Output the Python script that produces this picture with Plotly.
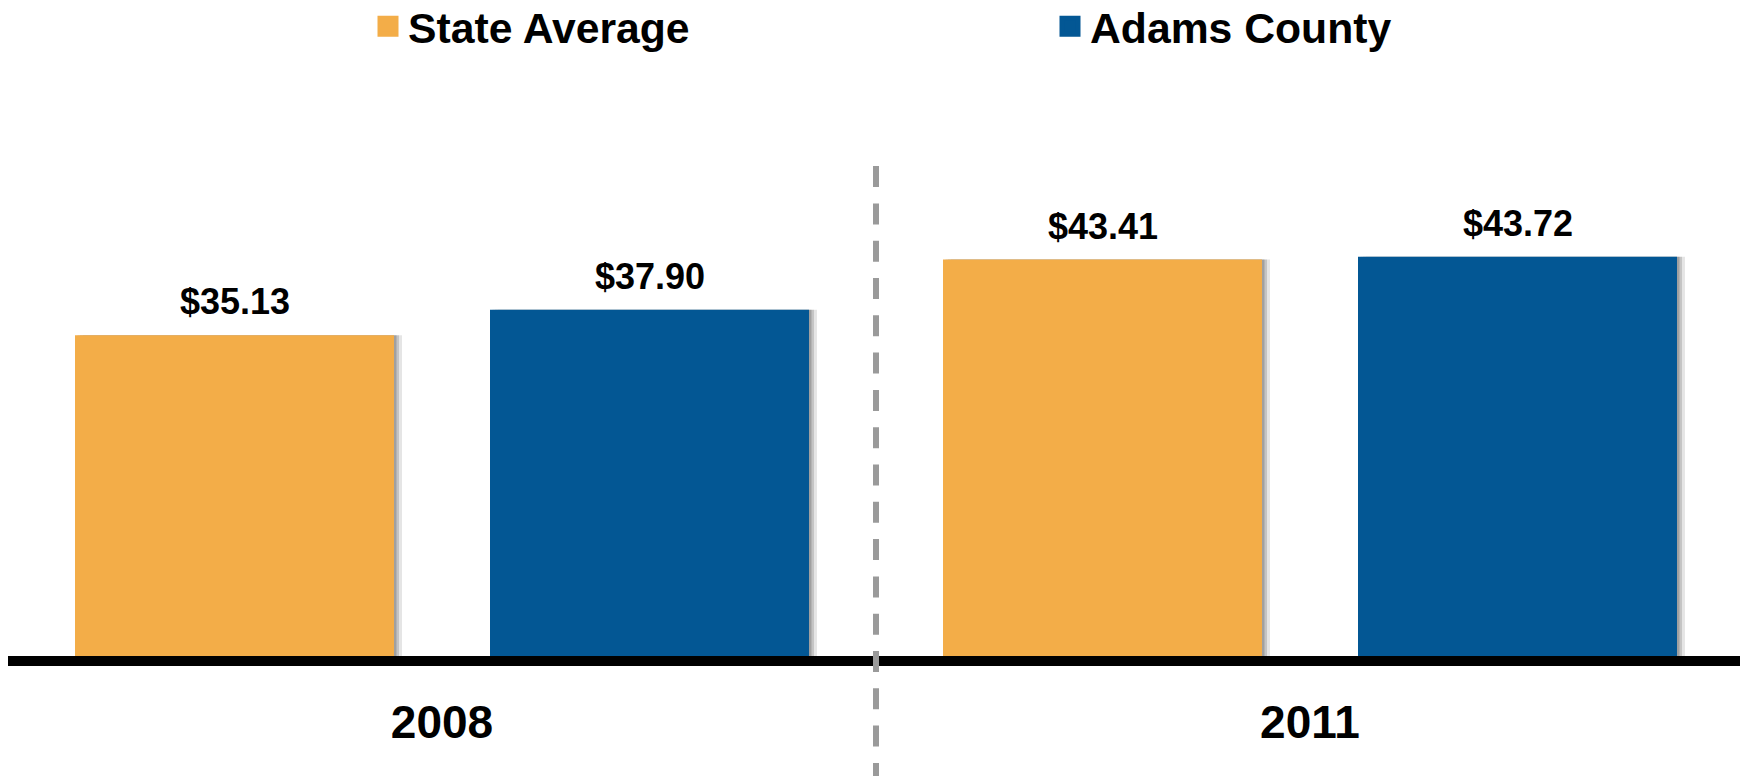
import plotly.graph_objects as go

# values (hourly rate, $)
years = ['2008', '2011']
state_average = [35.13, 43.41]
adams_county = [37.90, 43.72]

ORANGE = '#F3AD48'
BLUE = '#035794'
FONT = 'Liberation Sans, Arial, sans-serif'

# the page body adds an 8px margin, so the figure is sized to sit inside it
W, H = 1740, 768
M_LEFT, M_RIGHT, M_TOP, M_BOT = 0, 4, 100, 120
PLOT_W = W - M_LEFT - M_RIGHT
PLOT_H = H - M_TOP - M_BOT

BAR_W = 0.3675
OFFSETS = {'State Average': -0.4228, 'Adams County': 0.0553}
PX_PER_X = PLOT_W / 2.0  # one category step in pixels

xpos = list(range(len(years)))

fig = go.Figure()

series = [('State Average', state_average, ORANGE), ('Adams County', adams_county, BLUE)]

# soft drop shadow on the right-hand side of each bar
for name, vals, col in series:
    for shift, alpha in [(8, 0.10), (5, 0.14), (2.5, 0.18)]:
        fig.add_trace(go.Bar(
            x=xpos, y=vals, width=BAR_W,
            offset=OFFSETS[name] + shift / PX_PER_X,
            marker=dict(color=f'rgba(0,0,0,{alpha})', line=dict(width=0)),
            showlegend=False, hoverinfo='skip'))

for name, vals, col in series:
    fig.add_trace(go.Bar(
        x=xpos, y=vals, width=BAR_W, offset=OFFSETS[name],
        marker=dict(color=col, line=dict(width=0)),
        name=name, showlegend=False))
    # legend stand-in: bigger square swatch than the default bar icon
    fig.add_trace(go.Scatter(
        x=[None], y=[None], mode='markers', name=name,
        marker=dict(symbol='square', size=16, color=col, line=dict(color=col, width=5))))
    for xi, v in zip(xpos, vals):
        fig.add_annotation(
            x=xi + OFFSETS[name] + BAR_W / 2, y=v, text=f'${v:.2f}',
            showarrow=False, yanchor='bottom', yshift=11,
            font=dict(family=FONT, size=36, color='black', weight='bold'))

# dashed divider between the two years
fig.add_shape(type='line', xref='x', yref='paper',
              x0=0.5, x1=0.5, y0=0.894, y1=-0.25,
              line=dict(color='#9A9A9A', width=6, dash='21px,16.3px'))

fig.update_layout(
    width=W, height=H,
    margin=dict(l=M_LEFT, r=M_RIGHT, t=M_TOP, b=M_BOT, autoexpand=False),
    paper_bgcolor='white', plot_bgcolor='white',
    barmode='overlay',
    font=dict(family=FONT, color='black'),
    showlegend=True,
    legend=dict(
        orientation='h', xref='paper', yref='paper',
        x=(360 - M_LEFT) / PLOT_W, y=1 + (M_TOP + 16) / PLOT_H,
        xanchor='left', yanchor='top',
        entrywidth=637, entrywidthmode='pixels',
        font=dict(family=FONT, size=42.7, color='black', weight='bold'),
        bgcolor='rgba(0,0,0,0)', borderwidth=0, itemsizing='trace',
    ),
    xaxis=dict(
        range=[-0.5, 1.5], tickvals=xpos, ticktext=years,
        showgrid=False, zeroline=False, ticks='',
        showline=True, linecolor='black', linewidth=10,
        tickfont=dict(family=FONT, size=46, color='black', weight='bold'),
        ticklabelstandoff=17,
    ),
    yaxis=dict(
        range=[0, 60], side='right', showgrid=False, zeroline=False,
        showticklabels=False, ticks='',
        showline=True, linecolor='#8A8A8A', linewidth=1,
    ),
)

fig.write_html('out.html')
